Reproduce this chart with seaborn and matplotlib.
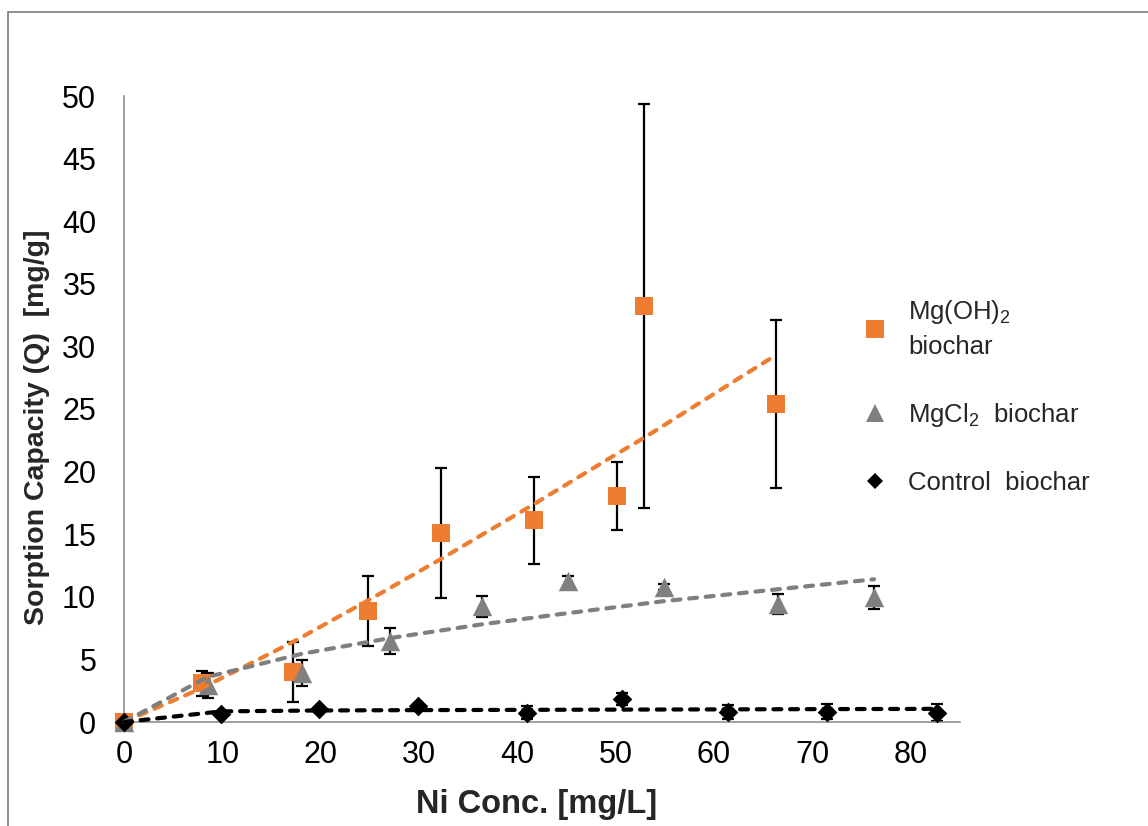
import numpy as np
import pandas as pd
import matplotlib
matplotlib.use("Agg")
import matplotlib.pyplot as plt
import seaborn as sns
from matplotlib.lines import Line2D
from matplotlib.patches import Rectangle

# ---------------- data ----------------
# Mg(OH)2 biochar
mgoh_x = [0, 7.9, 17.2, 24.8, 32.2, 41.7, 50.1, 52.9, 66.3]
mgoh_y = [0, 3.1, 4.0, 8.9, 15.1, 16.1, 18.05, 33.25, 25.4]
mgoh_err = [0, 1.0, 2.4, 2.8, 5.2, 3.5, 2.75, 16.15, 6.7]
mgoh_fit = [0, 2.7, 6.4, 9.7, 13.0, 17.4, 21.4, 22.7, 29.3]

# MgCl2 biochar
mgcl_x = [0, 8.5, 18.1, 27.05, 36.4, 45.2, 54.9, 66.5, 76.3]
mgcl_y = [0, 2.95, 3.9, 6.45, 9.25, 11.3, 10.8, 9.45, 9.95]
mgcl_err = [0, 1.0, 1.05, 1.05, 0.85, 0.4, 0.25, 0.8, 0.95]
mgcl_fit = [0, 3.6, 5.45, 6.7, 7.8, 8.7, 9.65, 10.6, 11.4]

# Control biochar
ctrl_x = [0, 9.9, 19.8, 29.95, 40.95, 50.7, 61.4, 71.55, 82.7]
ctrl_y = [0, 0.64, 1.04, 1.28, 0.75, 1.85, 0.82, 0.82, 0.75]
ctrl_err = [0, 0.15, 0.15, 0.15, 0.5, 0.5, 0.55, 0.6, 0.7]
ctrl_fit = [0, 0.85, 0.92, 0.95, 0.97, 0.99, 1.01, 1.03, 1.05]

series_names = ["Mg(OH)$_2$\nbiochar", "MgCl$_2$  biochar", "Control  biochar"]
x_ticks = [0, 10, 20, 30, 40, 50, 60, 70, 80]
y_ticks = [0, 5, 10, 15, 20, 25, 30, 35, 40, 45, 50]

# ---------------- style ----------------
sns.set_theme(style="white")
plt.rcParams["font.family"] = ["Liberation Sans", "DejaVu Sans"]
plt.rcParams["mathtext.fontset"] = "custom"
plt.rcParams["mathtext.rm"] = "Liberation Sans"
plt.rcParams["mathtext.default"] = "regular"

ORANGE = "#ED7D31"
GRAY = "#808080"
BLACK = "#000000"
AXCOL = "#868686"

W, H = 1148, 826
fig = plt.figure(figsize=(W / 100, H / 100), dpi=100)
ax = fig.add_axes([124 / W, (H - 722) / H, (959.6 - 124) / W, (722 - 96) / H])

# outer chart border
fig.patches.append(Rectangle((8 / W, -0.1), 2.0, (H - 12) / H + 0.1,
                             transform=fig.transFigure, fill=False,
                             edgecolor=AXCOL, linewidth=1.3, zorder=0))

dfs = []
for name, xs, ys, es, fs in [
    (series_names[0], mgoh_x, mgoh_y, mgoh_err, mgoh_fit),
    (series_names[1], mgcl_x, mgcl_y, mgcl_err, mgcl_fit),
    (series_names[2], ctrl_x, ctrl_y, ctrl_err, ctrl_fit),
]:
    dfs.append(pd.DataFrame({"series": name, "x": xs, "y": ys, "err": es, "fit": fs}))
df = pd.concat(dfs, ignore_index=True)

colors = {series_names[0]: ORANGE, series_names[1]: GRAY, series_names[2]: BLACK}
markers = {series_names[0]: "s", series_names[1]: "^", series_names[2]: "D"}
msizes = {series_names[0]: 13, series_names[1]: 14, series_names[2]: 10}

# error bars (below markers)
for name in series_names:
    d = df[df.series == name]
    ax.errorbar(d.x, d.y, yerr=d.err, fmt="none", ecolor="black",
                elinewidth=1.6, capsize=4.3, capthick=1.6, zorder=2)

# markers
for i, name in enumerate(series_names):
    d = df[df.series == name]
    n_before = len(ax.collections)
    sns.scatterplot(data=d, x="x", y="y", marker=markers[name], color=colors[name],
                    s=msizes[name] ** 2, linewidth=0, ax=ax, zorder=3 + i, legend=False)
    for c in ax.collections[n_before:]:
        c.set_clip_on(False)

# fitted (dashed) lines on top
for name in series_names:
    d = df[df.series == name]
    lc = "#7F7F7F" if name == series_names[1] else colors[name]
    n_before = len(ax.lines)
    sns.lineplot(data=d, x="x", y="fit", color=lc, linewidth=3.0, ax=ax,
                 sort=False, estimator=None, legend=False, zorder=7)
    for ln in ax.lines[n_before:]:
        ln.set_linestyle((0, (1.9, 2.1)))
        ln.set_dash_capstyle("round")
        ln.set_clip_on(False)

ax.set_xlim(0, 85)
ax.set_ylim(0, 50)
ax.set_xticks(x_ticks)
ax.set_yticks(y_ticks)
ax.tick_params(axis="both", which="major", labelsize=22, colors=AXCOL,
               labelcolor="black", length=7, width=1.1, direction="out")
ax.tick_params(axis="x", pad=6)
ax.tick_params(axis="y", pad=13)
for s in ["top", "right"]:
    ax.spines[s].set_visible(False)
for s in ["left", "bottom"]:
    ax.spines[s].set_color(AXCOL)
    ax.spines[s].set_linewidth(1.1)
ax.grid(False)

ax.set_xlabel("Ni Conc. [mg/L]", fontsize=23.5, fontweight="bold")
ax.set_ylabel("Sorption Capacity (Q)  [mg/g]", fontsize=20.5, fontweight="bold")
ax.xaxis.set_label_coords((537 - 124) / 835.6, -(789 - 722) / 626)
ax.yaxis.set_label_coords((50 - 124) / 835.6, (722 - 427) / 626)

handles = [Line2D([], [], linestyle="none", marker=markers[n], color=colors[n],
                  markersize=msizes[n] * (0.95 if n != series_names[2] else 0.8),
                  markeredgewidth=0) for n in series_names]
leg = fig.legend(handles, series_names, loc="upper left",
                 bbox_to_anchor=(862 / W, 1 - 298 / H), frameon=False,
                 fontsize=18.5, handlelength=1.0, handletextpad=0.8,
                 labelspacing=1.65, borderpad=0, borderaxespad=0)
for t in leg.get_texts():
    t.set_linespacing(1.45)

fig.savefig("out.png", dpi=100)
